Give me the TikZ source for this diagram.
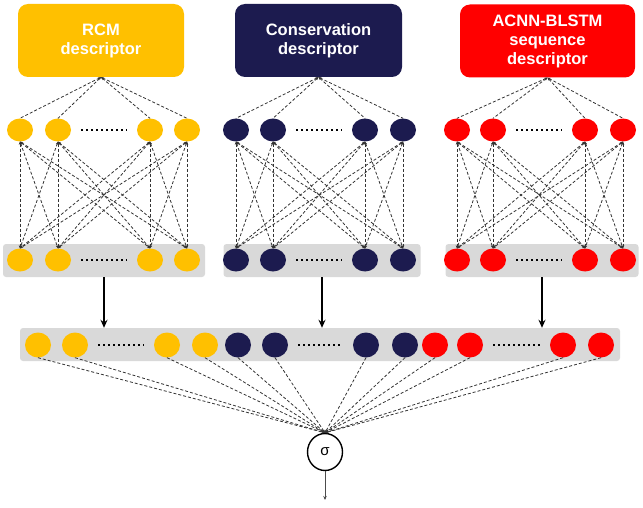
\documentclass[tikz,border=0pt]{standalone}
\usepackage{fontspec}
\setmainfont{Liberation Sans}
\usetikzlibrary{shapes.geometric,arrows.meta}
\definecolor{rcmyellow}{HTML}{FFC000}
\definecolor{connavy}{HTML}{1C1B4F}
\definecolor{seqred}{HTML}{FF0000}
\definecolor{bandgray}{HTML}{D9D9D9}

\begin{document}
\begin{tikzpicture}[
x=1pt, y=-1pt,
desc/.style={rounded corners=10pt, text=white, font=\bfseries\fontsize{16.5}{19}\selectfont, align=center, minimum height=73pt, inner sep=0pt},
neuron/.style={ellipse, inner sep=0pt, minimum width=26pt, minimum height=23pt},
band/.style={fill=bandgray, rounded corners=3pt, minimum height=33pt, inner sep=0pt},
link/.style={draw=black!80, line width=0.8pt, dash pattern=on 3pt off 2pt},
dotgap/.style={line width=2.2pt, dash pattern=on 2.2pt off 2.8pt, shorten <=10pt, shorten >=10pt},
feed/.style={-{Stealth[length=8pt,width=7pt]}, line width=2pt}
]
\useasboundingbox (0,0) rectangle (643,508);
%Descriptors
\node[desc, fill=rcmyellow, minimum width=166pt] (rcm) at (101,40.5)  {RCM\\descriptor};
\node[desc, fill=connavy,   minimum width=167pt] (con) at (318.5,40.5) {Conservation\\descriptor};
\node[desc, fill=seqred,    minimum width=175pt] (seq) at (547.5,41)  {ACNN-BLSTM\\sequence\\descriptor};
%Bands
\node[band, minimum width=202pt] (rband) at (104,260.5) {};
\node[band, minimum width=197pt] (cband) at (322,260.5) {};
\node[band, minimum width=193pt] (sband) at (542,260.5) {};
\node[band, minimum width=600pt] (mband) at (320,344.5) {};
%Hidden layers
\node[neuron, fill=rcmyellow] (ra1) at (20,130)  {};
\node[neuron, fill=rcmyellow] (ra2) at (58,130)  {};
\node[neuron, fill=rcmyellow] (ra3) at (150,130) {};
\node[neuron, fill=rcmyellow] (ra4) at (187,130) {};
\node[neuron, fill=rcmyellow] (rb1) at (20,260)  {};
\node[neuron, fill=rcmyellow] (rb2) at (58,260)  {};
\node[neuron, fill=rcmyellow] (rb3) at (150,260) {};
\node[neuron, fill=rcmyellow] (rb4) at (187,260) {};
\node[neuron, fill=connavy] (ca1) at (236,130) {};
\node[neuron, fill=connavy] (ca2) at (273,130) {};
\node[neuron, fill=connavy] (ca3) at (365,130) {};
\node[neuron, fill=connavy] (ca4) at (403,130) {};
\node[neuron, fill=connavy] (cb1) at (236,260) {};
\node[neuron, fill=connavy] (cb2) at (273,260) {};
\node[neuron, fill=connavy] (cb3) at (365,260) {};
\node[neuron, fill=connavy] (cb4) at (403,260) {};
\node[neuron, fill=seqred] (sa1) at (457,130) {};
\node[neuron, fill=seqred] (sa2) at (493,130) {};
\node[neuron, fill=seqred] (sa3) at (585,130) {};
\node[neuron, fill=seqred] (sa4) at (623,130) {};
\node[neuron, fill=seqred] (sb1) at (457,260) {};
\node[neuron, fill=seqred] (sb2) at (493,260) {};
\node[neuron, fill=seqred] (sb3) at (585,260) {};
\node[neuron, fill=seqred] (sb4) at (623,260) {};
%Merged layer
\node[neuron, fill=rcmyellow, minimum height=25pt] (m1)  at (38,345)  {};
\node[neuron, fill=rcmyellow, minimum height=25pt] (m2)  at (75,345)  {};
\node[neuron, fill=rcmyellow, minimum height=25pt] (m3)  at (167,345) {};
\node[neuron, fill=rcmyellow, minimum height=25pt] (m4)  at (205,345) {};
\node[neuron, fill=connavy,   minimum height=25pt] (m5)  at (238,345) {};
\node[neuron, fill=connavy,   minimum height=25pt] (m6)  at (275,345) {};
\node[neuron, fill=connavy,   minimum height=25pt] (m7)  at (366,345) {};
\node[neuron, fill=connavy,   minimum height=25pt] (m8)  at (405,345) {};
\node[neuron, fill=seqred,    minimum height=25pt] (m9)  at (435,345) {};
\node[neuron, fill=seqred,    minimum height=25pt] (m10) at (470,345) {};
\node[neuron, fill=seqred,    minimum height=25pt] (m11) at (563,345) {};
\node[neuron, fill=seqred,    minimum height=25pt] (m12) at (601,345) {};
\node[ellipse, draw, line width=1.4pt, minimum width=35pt, minimum height=37pt, inner sep=0pt, font=\fontsize{15}{15}\selectfont] (sig) at (325,452) {σ};
\coordinate (out) at (325,500);
%Dots
\draw[dotgap] (ra2) -- (ra3);
\draw[dotgap] (rb2) -- (rb3);
\draw[dotgap] (ca2) -- (ca3);
\draw[dotgap] (cb2) -- (cb3);
\draw[dotgap] (sa2) -- (sa3);
\draw[dotgap] (sb2) -- (sb3);
\draw[dotgap] (m2) -- (m3);
\draw[dotgap] (m6) -- (m7);
\draw[dotgap] (m10) -- (m11);
%Lines
\foreach \g/\d in {r/rcm, c/con, s/seq} {
  \foreach \i in {1,...,4} {
    \draw[link, {Stealth[length=3pt,width=2.5pt]}-] (\d.south) -- (\g a\i.north);
    \foreach \j in {1,...,4}
      \draw[link, {Stealth[length=3pt,width=2.5pt]}-{Stealth[length=3pt,width=2.5pt]}] (\g a\i.south) -- (\g b\j.north);
  }
}
\foreach \i in {1,...,12}
  \draw[link, -{Stealth[length=3pt,width=2.5pt]}] (m\i.south) -- (sig.north);
\draw[feed] (rband.south) -- (rband.south |- mband.north);
\draw[feed] (cband.south) -- (cband.south |- mband.north);
\draw[feed] (sband.south) -- (sband.south |- mband.north);
\draw[-{Stealth[length=4pt,width=3.5pt]}, draw=black!70, line width=0.8pt] (sig) -- (out);
\end{tikzpicture}
\end{document}
